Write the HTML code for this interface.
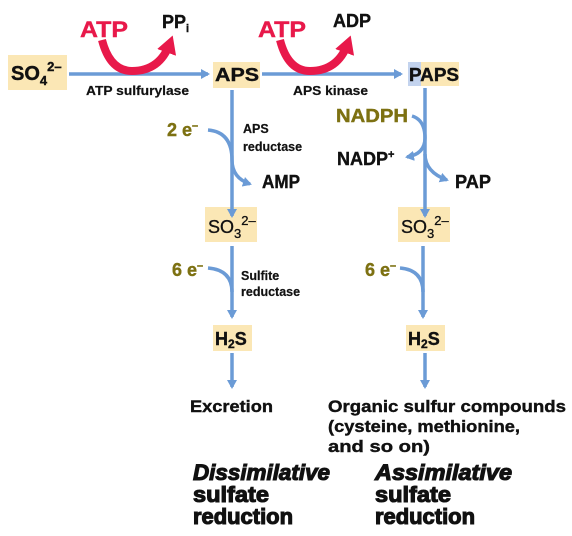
<!DOCTYPE html>
<html><head><meta charset="utf-8"><style>
html,body{margin:0;padding:0;background:#fff}
svg{display:block;font-family:"Liberation Sans",Arial,sans-serif}
</style></head><body>
<svg width="572" height="536" viewBox="0 0 572 536">
<defs>
<marker id="ab" markerWidth="10" markerHeight="10" refX="7" refY="5" orient="auto" markerUnits="userSpaceOnUse"><path d="M0,0 L9,5 L0,10 Z" fill="#6b9bd6"/></marker>
<marker id="ar" markerWidth="20" markerHeight="20" refX="10" refY="10" orient="auto" markerUnits="userSpaceOnUse"><path d="M0,0 L18,10 L0,20 Z" fill="#e8194a"/></marker>
</defs>
<g fill="#fbe7b5">
<rect x="8" y="55" width="59" height="35"/>
<rect x="213" y="62" width="47" height="26"/>
<rect x="408" y="62" width="13" height="24" fill="#c3d3ee"/>
<rect x="421" y="62" width="38" height="24"/>
<rect x="205" y="207" width="52" height="35"/>
<rect x="398" y="207" width="52" height="35"/>
<rect x="213" y="325" width="39" height="26"/>
<rect x="406" y="325" width="39" height="26"/>
</g>
<g stroke="#6b9bd6" stroke-width="3.5" fill="none">
<line x1="69" y1="74" x2="208" y2="74" marker-end="url(#ab)"/>
<line x1="262" y1="74" x2="401" y2="74" marker-end="url(#ab)"/>
<line x1="232" y1="90" x2="232" y2="216" marker-end="url(#ab)"/>
<line x1="425" y1="88" x2="425" y2="216" marker-end="url(#ab)"/>
<path d="M208,130 Q232,132 232,160 Q232,178 250,184" marker-end="url(#ab)"/>
<path d="M412,116 Q425,120 425,138 Q425,154 407,157" marker-end="url(#ab)"/>
<path d="M425,154 Q425,172 447,180" marker-end="url(#ab)"/>
<line x1="232" y1="246" x2="232" y2="317" marker-end="url(#ab)"/>
<line x1="423" y1="246" x2="423" y2="317" marker-end="url(#ab)"/>
<path d="M208,268 Q232,270 232,292"/>
<path d="M400,268 Q423,270 423,292"/>
<line x1="232" y1="353" x2="232" y2="387" marker-end="url(#ab)"/>
<line x1="425" y1="353" x2="425" y2="387" marker-end="url(#ab)"/>
</g>
<g stroke="#e8194a" stroke-width="8" fill="none">
<path d="M102,40 Q110,71 132,71 Q160,71 170,43" marker-end="url(#ar)"/>
<path d="M280,40 Q288,71 310,71 Q338,71 348,43" marker-end="url(#ar)"/>
</g>
<g font-weight="bold" fill="#111" font-size="18" stroke="#111" stroke-width="0.4">
<text x="11" y="80" font-size="20">SO<tspan font-size="13" dy="5">4</tspan><tspan font-size="13" dy="-14">2–</tspan></text>
<text x="215" y="81" textLength="44" lengthAdjust="spacingAndGlyphs">APS</text>
<text x="409" y="81" textLength="50" lengthAdjust="spacingAndGlyphs">PAPS</text>
<text x="80" y="37" fill="#e8194a" stroke="#e8194a" font-size="22" textLength="48" lengthAdjust="spacingAndGlyphs">ATP</text>
<text x="162" y="28">PP<tspan font-size="11" dy="4">i</tspan></text>
<text x="258" y="37" fill="#e8194a" stroke="#e8194a" font-size="22" textLength="48" lengthAdjust="spacingAndGlyphs">ATP</text>
<text x="333" y="27" textLength="38" lengthAdjust="spacingAndGlyphs">ADP</text>
<text x="86" y="95" font-size="12.5" stroke-width="0.2" textLength="103" lengthAdjust="spacingAndGlyphs">ATP sulfurylase</text>
<text x="293" y="95" font-size="12.5" stroke-width="0.2" textLength="75" lengthAdjust="spacingAndGlyphs">APS kinase</text>
<text x="167" y="136" fill="#7d7112" stroke="#7d7112">2 e<tspan font-size="11" dy="-7">–</tspan></text>
<text x="243" y="133" font-size="12.5" stroke-width="0.2">APS<tspan x="243" dy="18">reductase</tspan></text>
<text x="262" y="188" textLength="38" lengthAdjust="spacingAndGlyphs">AMP</text>
<text x="336" y="122" fill="#7d7112" stroke="#7d7112" textLength="72" lengthAdjust="spacingAndGlyphs">NADPH</text>
<text x="337" y="165">NADP<tspan font-size="11" dy="-7">+</tspan></text>
<text x="455" y="188" textLength="36" lengthAdjust="spacingAndGlyphs">PAP</text>
<text x="208" y="233" font-weight="normal" font-size="18" stroke-width="0.3">SO<tspan font-size="13" dy="5">3</tspan><tspan font-size="13" dy="-13">2–</tspan></text>
<text x="401" y="233" font-weight="normal" font-size="18" stroke-width="0.3">SO<tspan font-size="13" dy="5">3</tspan><tspan font-size="13" dy="-13">2–</tspan></text>
<text x="172" y="276" fill="#7d7112" stroke="#7d7112">6 e<tspan font-size="11" dy="-7">–</tspan></text>
<text x="365" y="276" fill="#7d7112" stroke="#7d7112">6 e<tspan font-size="11" dy="-7">–</tspan></text>
<text x="241" y="280" font-size="12.5" stroke-width="0.2">Sulfite<tspan x="241" dy="16">reductase</tspan></text>
<text x="215" y="345">H<tspan font-size="12" dy="3">2</tspan><tspan dy="-3">S</tspan></text>
<text x="408" y="345">H<tspan font-size="12" dy="3">2</tspan><tspan dy="-3">S</tspan></text>
<text x="190" y="412" font-size="17" textLength="83" lengthAdjust="spacingAndGlyphs">Excretion</text>
<g font-size="17">
<text x="328" y="412" textLength="238" lengthAdjust="spacingAndGlyphs">Organic sulfur compounds</text>
<text x="328" y="432" textLength="192" lengthAdjust="spacingAndGlyphs">(cysteine, methionine,</text>
<text x="328" y="452" textLength="102" lengthAdjust="spacingAndGlyphs">and so on)</text>
</g>
<g font-size="22" stroke-width="1.1">
<text x="193" y="480" font-style="italic" textLength="137" lengthAdjust="spacingAndGlyphs">Dissimilative</text>
<text x="193" y="502" textLength="76" lengthAdjust="spacingAndGlyphs">sulfate</text>
<text x="193" y="524" textLength="100" lengthAdjust="spacingAndGlyphs">reduction</text>
</g>
<g font-size="22" stroke-width="1.1">
<text x="375" y="480" font-style="italic" textLength="137" lengthAdjust="spacingAndGlyphs">Assimilative</text>
<text x="375" y="502" textLength="76" lengthAdjust="spacingAndGlyphs">sulfate</text>
<text x="375" y="524" textLength="100" lengthAdjust="spacingAndGlyphs">reduction</text>
</g>
</g>
</svg>
</body></html>
